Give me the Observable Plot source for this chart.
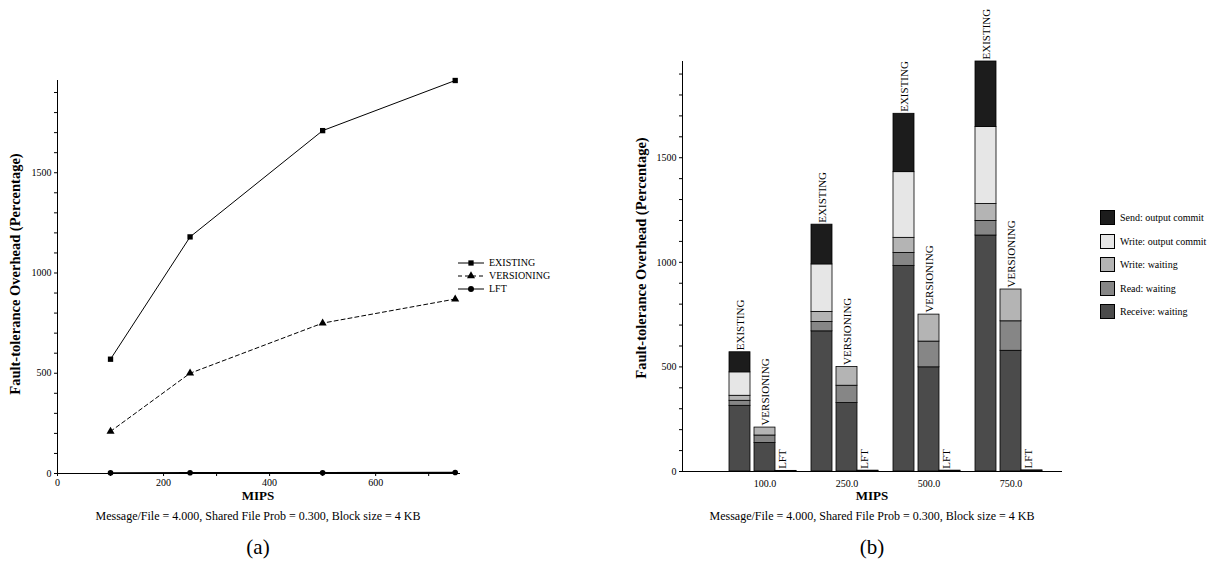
<!DOCTYPE html>
<html><head><meta charset="utf-8">
<script src="https://cdn.jsdelivr.net/npm/d3@7"></script>
<script src="https://cdn.jsdelivr.net/npm/@observablehq/plot@0.6"></script>
<style>
body{margin:0;background:#fff;}
#wrap{position:relative;width:1211px;height:565px;overflow:hidden;font-family:"Liberation Serif",serif;color:#000;background:#fff;}
.cap{position:absolute;transform:translate(-50%,-50%);white-space:nowrap;}
.ylab{position:absolute;transform:translate(-50%,-50%) rotate(-90deg);white-space:nowrap;font-weight:bold;font-size:14.5px;}
.leg{position:absolute;font-size:10px;white-space:nowrap;display:flex;align-items:center;}
svg{overflow:visible;}
</style></head><body><div id="wrap"></div><script>
// ---- data ----
const mips = [100, 250, 500, 750];
const mipsLabels = ["100.0", "250.0", "500.0", "750.0"];
const existing = [570, 1180, 1710, 1960];
const versioning = [210, 500, 750, 870];
const lft = [3, 4, 4, 5];

const components = ["Receive: waiting", "Read: waiting", "Write: waiting", "Write: output commit", "Send: output commit"];
const componentColors = ["#4b4b4b", "#868686", "#b4b4b4", "#e6e6e6", "#1c1c1c"];

const existingReceive = [314, 670, 983, 1128];
const existingRead = [24, 45, 62, 70];
const existingWriteWait = [24, 48, 72, 81];
const existingWriteCommit = [112, 227, 314, 368];
const existingSend = [96, 190, 279, 313];

const versioningReceive = [136, 327, 498, 577];
const versioningRead = [36, 83, 123, 141];
const versioningWriteWait = [38, 90, 129, 152];

const lftReceive = [2, 3, 3, 4];
const lftRead = [1, 1, 1, 1];

const schemes = ["EXISTING", "VERSIONING", "LFT"];
const caption = "Message/File = 4.000, Shared File Prob = 0.300, Block size = 4 KB";
const yTitle = "Fault-tolerance Overhead (Percentage)";

// ---- helpers ----
const serif = "Liberation Serif, serif";
const wrap = document.getElementById("wrap");
function rows(vals) { return mips.map((m, i) => ({mips: m, value: vals[i]})); }
function parts(list) {
  const out = [];
  mipsLabels.forEach((lab, i) => list.forEach(([name, arr]) => out.push({mips: lab, part: name, value: arr[i]})));
  return out;
}
function place(el, x, y) { el.style.position = "absolute"; el.style.left = x + "px"; el.style.top = y + "px"; wrap.appendChild(el); return el; }
function addDiv(cls, txt, x, y, extra = {}) {
  const d = document.createElement("div"); d.className = cls; d.textContent = txt;
  d.style.left = x + "px"; d.style.top = y + "px";
  Object.assign(d.style, extra); wrap.appendChild(d); return d;
}
const fmt = d => d % 500 ? "" : String(d);

// ---- left: line chart ----
const left = Plot.plot({
  width: 480, height: 500, marginLeft: 57, marginRight: 20, marginTop: 80, marginBottom: 27,
  style: {fontFamily: serif, fontSize: "10px", color: "#000", background: "transparent"},
  x: {domain: [0, 760]},
  y: {domain: [0, 1960]},
  marks: [
    Plot.frame({anchor: "left", stroke: "#000"}),
    Plot.ruleY([0], {stroke: "#000"}),
    Plot.axisY({ticks: d3.range(0, 1901, 100), tickSize: 3, tickPadding: 3, tickFormat: fmt, label: null}),
    Plot.axisX({ticks: d3.range(0, 701, 100), tickSize: 3, tickPadding: 2, tickFormat: d => d % 200 ? "" : String(d), label: null}),
    Plot.line(rows(lft), {x: "mips", y: "value", stroke: "#000", strokeWidth: 1.5}),
    Plot.dot(rows(lft), {x: "mips", y: "value", symbol: "circle", fill: "#000", r: 2.8}),
    Plot.line(rows(versioning), {x: "mips", y: "value", stroke: "#000", strokeWidth: 1, strokeDasharray: "4,3"}),
    Plot.dot(rows(versioning), {x: "mips", y: "value", symbol: "triangle", fill: "#000", r: 3}),
    Plot.line(rows(existing), {x: "mips", y: "value", stroke: "#000", strokeWidth: 1}),
    Plot.dot(rows(existing), {x: "mips", y: "value", symbol: "square", fill: "#000", r: 3})
  ]
});
place(left, 0, 0);

// ---- right: stacked bars ----
const existingBars = parts([[components[0], existingReceive], [components[1], existingRead], [components[2], existingWriteWait], [components[3], existingWriteCommit], [components[4], existingSend]]);
const versioningBars = parts([[components[0], versioningReceive], [components[1], versioningRead], [components[2], versioningWriteWait]]);
const lftBars = parts([[components[0], lftReceive], [components[1], lftRead]]);
const totals = (vals) => mipsLabels.map((lab, i) => ({mips: lab, value: vals[i]}));

const barStyle = {x: "mips", y: "value", fill: "part", stroke: "#000", strokeWidth: 0.8};
const labStyle = {x: "mips", y: "value", rotate: -90, textAnchor: "start", dy: -2, fontSize: 11};
const right = Plot.plot({
  width: 480, height: 500, marginLeft: 82, marginRight: 18, marginTop: 61, marginBottom: 29,
  style: {fontFamily: serif, fontSize: "10px", color: "#000", background: "transparent"},
  x: {domain: mipsLabels, paddingInner: 0.134, paddingOuter: 0.384, align: 0.746},
  y: {domain: [0, 1960]},
  color: {domain: components, range: componentColors},
  marks: [
    Plot.barY(existingBars, Plot.stackY({...barStyle, insetRight: 50})),
    Plot.barY(versioningBars, Plot.stackY({...barStyle, insetLeft: 25, insetRight: 25})),
    Plot.barY(lftBars, Plot.stackY({...barStyle, insetLeft: 46, insetRight: 4})),
    Plot.text(totals(existing), {...labStyle, text: () => schemes[0], dx: -25}),
    Plot.text(totals(versioning), {...labStyle, text: () => schemes[1], dx: 0}),
    Plot.text(totals(lft), {...labStyle, text: () => schemes[2], dx: 17}),
    Plot.frame({anchor: "left", stroke: "#000"}),
    Plot.ruleY([0], {stroke: "#000"}),
    Plot.axisY({ticks: d3.range(0, 1901, 100), tickSize: 3, tickPadding: 3, tickFormat: fmt, label: null}),
    Plot.axisX({tickSize: 0, tickPadding: 8, label: null})
  ]
});
place(right, 600, 0);

// ---- titles / captions ----
addDiv("ylab", yTitle, 15, 274);
addDiv("ylab", yTitle, 641, 258);
addDiv("cap", "MIPS", 258, 496, {fontWeight: "bold", fontSize: "13px"});
addDiv("cap", "MIPS", 872, 496, {fontWeight: "bold", fontSize: "13px"});
addDiv("cap", caption, 258, 516, {fontSize: "12px"});
addDiv("cap", caption, 872, 516, {fontSize: "12px"});
addDiv("cap", "(a)", 258, 547, {fontSize: "21px"});
addDiv("cap", "(b)", 872, 547, {fontSize: "21px"});

// ---- left legend ----
const legSeries = [["EXISTING", "square", null], ["VERSIONING", "triangle", "4,3"], ["LFT", "circle", null]];
legSeries.forEach(([name, sym, dash], i) => {
  const d = document.createElement("div"); d.className = "leg";
  d.style.left = "458px"; d.style.top = (257 + i * 13) + "px";
  const s = d3.create("svg").attr("width", 26).attr("height", 10).style("margin-right", "5px");
  s.append("line").attr("x1", 0).attr("x2", 26).attr("y1", 5).attr("y2", 5).attr("stroke", "#000").attr("stroke-dasharray", dash);
  s.append("path").attr("transform", "translate(13,5)").attr("d", d3.symbol(sym === "square" ? d3.symbolSquare : sym === "triangle" ? d3.symbolTriangle : d3.symbolCircle, 28)()).attr("fill", "#000");
  d.appendChild(s.node());
  d.appendChild(document.createTextNode(name));
  wrap.appendChild(d);
});

// ---- right legend ----
components.slice().reverse().forEach((name, i) => {
  const d = document.createElement("div"); d.className = "leg";
  d.style.left = "1100px"; d.style.top = (210 + i * 23.5) + "px";
  const sw = document.createElement("div");
  sw.style.cssText = `width:15px;height:15px;border:1px solid #000;box-sizing:border-box;margin-right:5px;background:${componentColors[components.indexOf(name)]}`;
  d.appendChild(sw);
  d.appendChild(document.createTextNode(name));
  wrap.appendChild(d);
});
</script></body></html>
